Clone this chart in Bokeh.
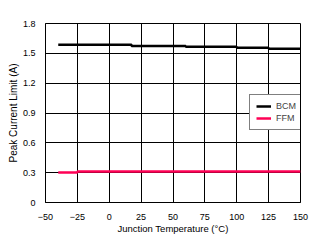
from bokeh.plotting import figure
from bokeh.models import FixedTicker, Legend, LegendItem, Range1d
from bokeh.embed import file_html
from bokeh.resources import INLINE

# Data
bcm_temp = [-40, 17.5, 60, 100, 125, 150]
bcm_limit = [1.586, 1.575, 1.566, 1.556, 1.546, 1.546]
ffm_temp = [-40, -25, 150]
ffm_limit = [0.302, 0.312, 0.312]

x_ticks = [-50, -25, 0, 25, 50, 75, 100, 125, 150]
y_ticks = [0, 0.3, 0.6, 0.9, 1.2, 1.5, 1.8]
y_tick_labels = ["0", "0.3", "0.6", "0.9", "1.2", "1.5", "1.8"]

FONT = "Liberation Sans"

p = figure(width=322, height=243, output_backend="svg", toolbar_location=None,
           x_range=Range1d(-50, 150), y_range=Range1d(0, 1.8),
           min_border_left=45, min_border_right=22, min_border_top=23, min_border_bottom=41)
p.background_fill_color = "white"
p.border_fill_color = "white"
p.outline_line_color = "black"
p.outline_line_width = 1

for ax in (p.xaxis[0], p.yaxis[0]):
    ax.axis_line_color = "black"
    ax.major_tick_line_color = None
    ax.minor_tick_line_color = None
    ax.major_label_text_font = FONT
    ax.major_label_text_font_size = "9px"
    ax.major_label_text_color = "black"
    ax.axis_label_text_font = FONT
    ax.axis_label_text_font_style = "normal"
    ax.axis_label_text_color = "black"

p.xaxis.axis_label_text_font_size = "9.5px"
p.yaxis.axis_label_text_font_size = "10px"
p.xaxis.ticker = FixedTicker(ticks=x_ticks)
p.yaxis.ticker = FixedTicker(ticks=y_ticks)
p.yaxis.major_label_overrides = {t: l for t, l in zip(y_ticks, y_tick_labels)}
p.xaxis.axis_label = "Junction Temperature (°C)"
p.yaxis.axis_label = "Peak Current Limit (A)"
p.xaxis.major_label_standoff = 5
p.yaxis.major_label_standoff = 4
p.xaxis.axis_label_standoff = 0
p.yaxis.axis_label_standoff = 1

p.grid.grid_line_color = "black"
p.grid.grid_line_width = 1
p.grid.grid_line_alpha = 1

r_bcm = p.step(bcm_temp, bcm_limit, mode="after", line_color="black", line_width=2.5)
r_ffm = p.step(ffm_temp, ffm_limit, mode="after", line_color="#FF0055", line_width=2.5)

legend = Legend(items=[LegendItem(label="BCM", renderers=[r_bcm]),
                       LegendItem(label="FFM", renderers=[r_ffm])],
                location=(204, 72))
legend.border_line_color = "black"
legend.border_line_width = 1
legend.background_fill_color = "white"
legend.background_fill_alpha = 1
legend.label_text_font = FONT
legend.label_text_font_size = "9px"
legend.glyph_width = 15
legend.glyph_height = 10
legend.label_standoff = 5
legend.label_height = 10
legend.padding = 6
legend.spacing = 2
legend.margin = 0
p.add_layout(legend)

open("out.html", "w").write(file_html(p, INLINE))
